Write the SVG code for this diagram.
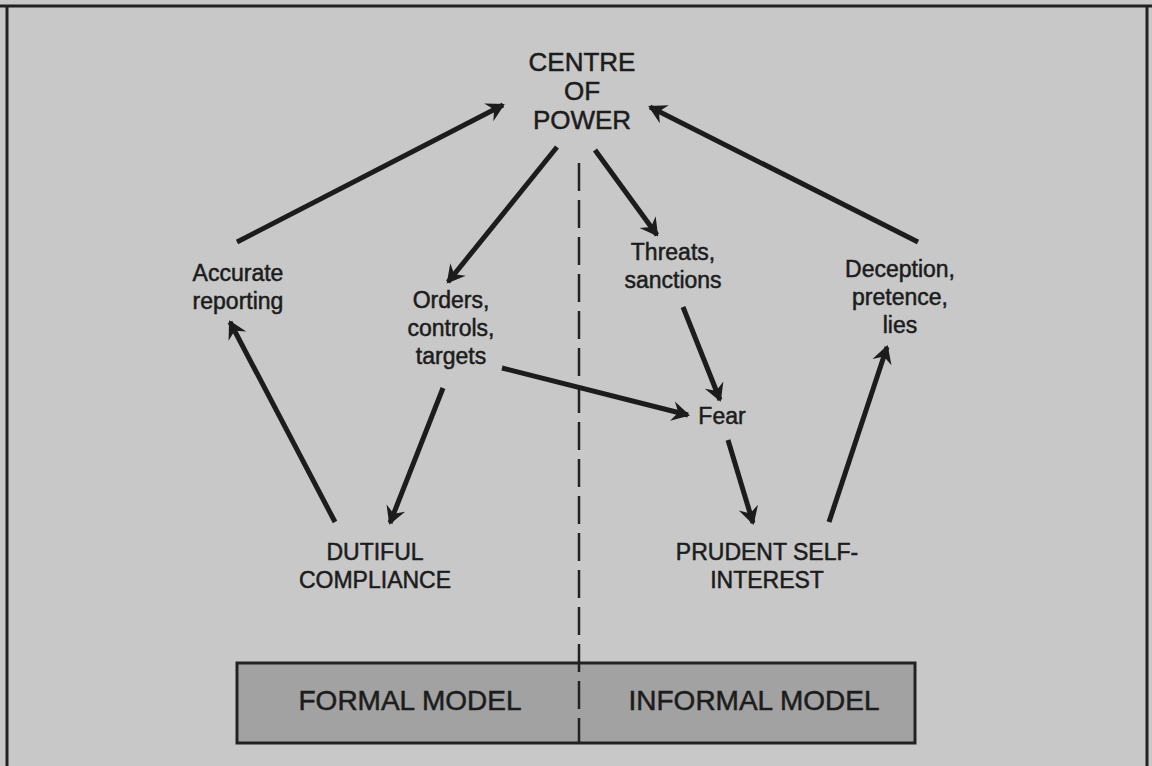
<svg xmlns="http://www.w3.org/2000/svg" width="1152" height="766" viewBox="0 0 1152 766">
<style>
text{font-family:"Liberation Sans",Arial,sans-serif;fill:#1c1c1c;stroke:#1c1c1c;stroke-width:0.5;text-anchor:middle}
.n{font-size:23px}
.c{font-size:26px}
.b{font-size:28px}
.e{stroke:#1c1c1c;stroke-width:5;fill:none;marker-end:url(#ah)}
</style>
<defs>
<marker id="ah" markerUnits="userSpaceOnUse" markerWidth="26" markerHeight="26" viewBox="-20 -13 24 26" refX="0" refY="0" orient="auto">
<path d="M2,0 L-16,-10 L-10,0 L-16,10 Z" fill="#1c1c1c"/>
</marker>
</defs>
<rect x="0" y="0" width="1152" height="766" fill="#c8c8c8"/>
<g id="frame" stroke="#222" stroke-width="3">
<line x1="0" y1="6" x2="1152" y2="6"/>
<line x1="7" y1="6" x2="7" y2="766"/>
<line x1="1147" y1="6" x2="1147" y2="766"/>
</g>
<g id="models">
<rect x="237" y="663" width="678" height="80" fill="#a2a2a2" stroke="#222" stroke-width="3"/>
<text class="b" x="410" y="710">FORMAL MODEL</text>
<text class="b" x="754" y="710">INFORMAL MODEL</text>
</g>
<g id="divider">
<line x1="579" y1="163" x2="579" y2="743" stroke="#222" stroke-width="2.5" stroke-dasharray="28 9"/>
</g>
<g id="centre"><text class="c" x="582" y="71">CENTRE</text><text class="c" x="582" y="100">OF</text><text class="c" x="582" y="129">POWER</text></g>
<g id="accurate"><text class="n" x="238" y="281">Accurate</text><text class="n" x="238" y="309">reporting</text></g>
<g id="orders"><text class="n" x="451" y="308">Orders,</text><text class="n" x="451" y="336">controls,</text><text class="n" x="451" y="364">targets</text></g>
<g id="threats"><text class="n" x="673" y="260">Threats,</text><text class="n" x="673" y="288">sanctions</text></g>
<g id="deception"><text class="n" x="900" y="277">Deception,</text><text class="n" x="900" y="305">pretence,</text><text class="n" x="900" y="333">lies</text></g>
<g id="fear"><text class="n" x="722" y="424">Fear</text></g>
<g id="dutiful"><text class="n" x="375" y="560">DUTIFUL</text><text class="n" x="375" y="588">COMPLIANCE</text></g>
<g id="prudent"><text class="n" x="767" y="560">PRUDENT SELF-</text><text class="n" x="767" y="588">INTEREST</text></g>
<g id="connectors">
<line class="e" x1="237" y1="242" x2="503" y2="105"/>
<line class="e" x1="918" y1="242" x2="650" y2="107"/>
<line class="e" x1="557" y1="147" x2="448" y2="282"/>
<line class="e" x1="595" y1="150" x2="657" y2="235"/>
<line class="e" x1="502" y1="368" x2="688" y2="415"/>
<line class="e" x1="683" y1="307" x2="720" y2="400"/>
<line class="e" x1="443" y1="388" x2="390" y2="523"/>
<line class="e" x1="335" y1="522" x2="230" y2="322"/>
<line class="e" x1="728" y1="440" x2="753" y2="523"/>
<line class="e" x1="829" y1="522" x2="887" y2="347"/>
</g>
</svg>
